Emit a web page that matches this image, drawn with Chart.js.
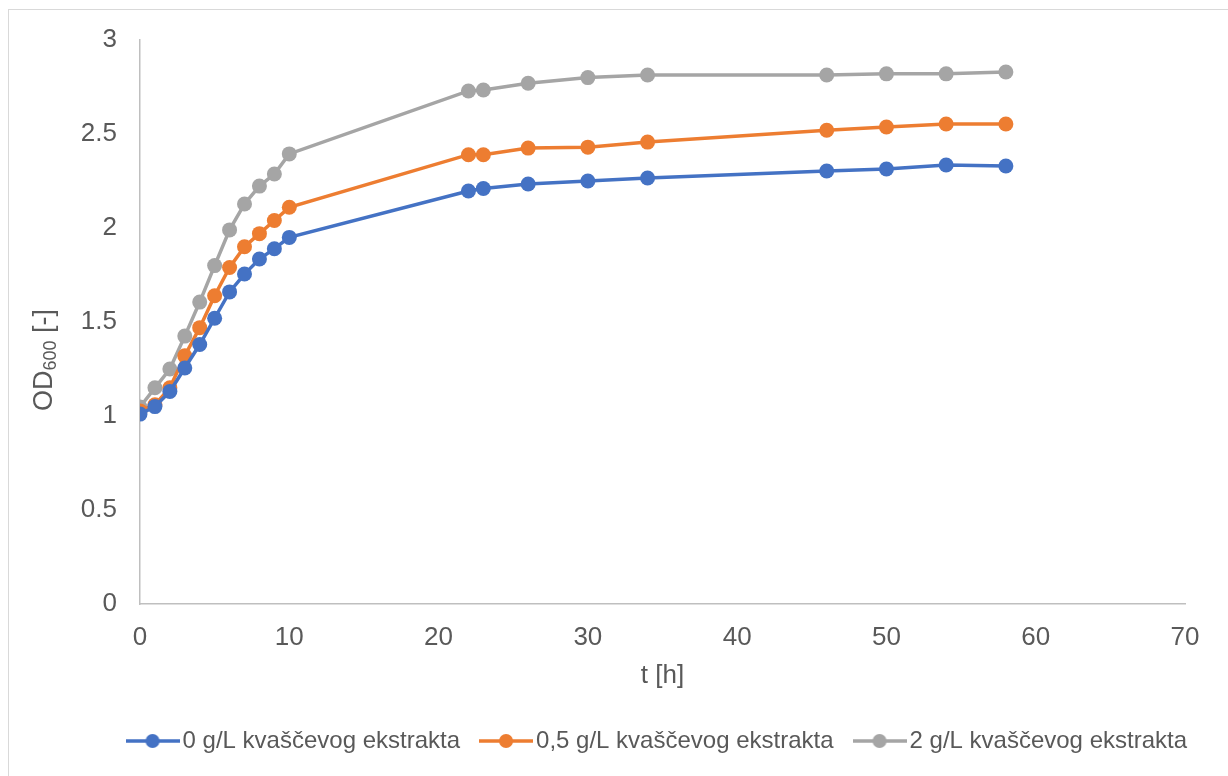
<!DOCTYPE html>
<html>
<head>
<meta charset="utf-8">
<script src="https://cdn.jsdelivr.net/npm/chart.js@4"></script>
<style>
  html, body { margin: 0; padding: 0; background: #fff; }
  #wrap { width: 1228px; height: 776px; }
</style>
</head>
<body>
<div id="wrap"><canvas id="graf" width="1228" height="776"></canvas></div>
<script>
// vrijeme uzorkovanja [h]
const vrijeme = [0, 1, 2, 3, 4, 5, 6, 7, 8, 9, 10, 22, 23, 26, 30, 34, 46, 50, 54, 58];

const od_0 = [1.01, 1.05, 1.13, 1.255, 1.38, 1.52, 1.66, 1.755, 1.835, 1.89, 1.95,
              2.197, 2.21, 2.234, 2.25, 2.266, 2.303, 2.314, 2.335, 2.33];
const od_05 = [1.027, 1.06, 1.15, 1.32, 1.47, 1.64, 1.79, 1.90, 1.97, 2.04, 2.11,
               2.39, 2.39, 2.425, 2.43, 2.457, 2.52, 2.537, 2.553, 2.553];
const od_2 = [1.048, 1.15, 1.25, 1.425, 1.606, 1.80, 1.99, 2.128, 2.223, 2.287, 2.394,
              2.729, 2.734, 2.77, 2.80, 2.814, 2.814, 2.82, 2.82, 2.83];

const nazivi = ["0 g/L kvaščevog ekstrakta", "0,5 g/L kvaščevog ekstrakta", "2 g/L kvaščevog ekstrakta"];
const boje = ["#4472C4", "#ED7D31", "#A5A5A5"];

const xTicks = [0, 10, 20, 30, 40, 50, 60, 70];
const yTicks = [0, 0.5, 1, 1.5, 2, 2.5, 3];
const yTickLabels = ["0", "0.5", "1", "1.5", "2", "2.5", "3"];

const font = "'Liberation Sans', Arial, sans-serif";
const siva = "#595959";

function tocke(ys) {
  return vrijeme.map((t, i) => ({ x: t, y: ys[i] }));
}

// mala slika linije s kružićem za legendu
function ikona(boja) {
  const c = document.createElement("canvas");
  c.width = 54; c.height = 16;
  const g = c.getContext("2d");
  g.strokeStyle = boja; g.lineWidth = 3.5;
  g.beginPath(); g.moveTo(0, 8); g.lineTo(54, 8); g.stroke();
  g.fillStyle = boja;
  g.beginPath(); g.arc(27, 8, 7, 0, Math.PI * 2); g.fill();
  return c;
}

const okvir = {
  id: "okvir",
  beforeDraw(chart) {
    const ctx = chart.ctx;
    ctx.save();
    ctx.fillStyle = "#fff";
    ctx.fillRect(0, 0, chart.width, chart.height);
    ctx.strokeStyle = "#d9d9d9";
    ctx.lineWidth = 1;
    ctx.strokeRect(8.5, 9.5, 1400, 1400);
    ctx.restore();
  },
  afterDraw(chart) {
    // naslov y osi s indeksom
    const ctx = chart.ctx;
    ctx.save();
    ctx.translate(45, 360);
    ctx.rotate(-Math.PI / 2);
    ctx.fillStyle = siva;
    ctx.textBaseline = "middle";
    const f1 = "27px " + font, f2 = "18px " + font;
    ctx.font = f1; const w1 = ctx.measureText("OD").width; const w3 = ctx.measureText(" [-]").width;
    ctx.font = f2; const w2 = ctx.measureText("600").width;
    let x = -(w1 + w2 + w3) / 2;
    ctx.font = f1; ctx.fillText("OD", x, 0); x += w1;
    ctx.font = f2; ctx.fillText("600", x, 6); x += w2;
    ctx.font = f1; ctx.fillText(" [-]", x, 0);
    ctx.restore();
  }
};

new Chart(document.getElementById("graf"), {
  type: "line",
  data: {
    datasets: [od_0, od_05, od_2].map((d, i) => ({
      label: nazivi[i],
      data: tocke(d),
      borderColor: boje[i],
      backgroundColor: boje[i],
      borderWidth: 3.5,
      pointRadius: 7.5,
      pointHoverRadius: 7.5,
      pointBorderWidth: 0,
      tension: 0
    }))
  },
  options: {
    responsive: false,
    animation: false,
    layout: { padding: { left: 80, top: 40, right: 13, bottom: 13 } },
    scales: {
      x: {
        type: "linear",
        min: 0, max: 70,
        afterBuildTicks: s => { s.ticks = xTicks.map(v => ({ value: v })); },
        afterFit: s => { s.height = 97; s.paddingRight = 43; },
        grid: { display: false, drawTicks: false },
        border: { color: "#bfbfbf", width: 1.5 },
        ticks: { color: siva, font: { size: 26, family: font }, padding: 18, maxRotation: 0 },
        title: { display: true, text: "t [h]", color: siva, font: { size: 26, family: font }, padding: { top: 0, bottom: 10 } }
      },
      y: {
        min: 0, max: 3,
        afterBuildTicks: s => { s.ticks = yTicks.map(v => ({ value: v })); },
        afterFit: s => { s.width = 60; },
        grid: { display: false, drawTicks: false },
        border: { color: "#bfbfbf", width: 1.5 },
        ticks: {
          color: siva, font: { size: 26, family: font }, padding: 23,
          callback: v => yTickLabels[yTicks.indexOf(v)]
        }
      }
    },
    plugins: {
      tooltip: { enabled: false },
      legend: {
        position: "bottom",
        align: "end",
        labels: {
          usePointStyle: true,
          pointStyleWidth: 36,
          padding: 28,
          color: siva,
          font: { size: 24, family: font },
          generateLabels: chart => chart.data.datasets.map((ds, i) => ({
            text: ds.label,
            fontColor: siva,
            pointStyle: ikona(boje[i]),
            lineWidth: 0,
            hidden: false,
            datasetIndex: i
          }))
        }
      }
    }
  },
  plugins: [okvir]
});
</script>
</body>
</html>
